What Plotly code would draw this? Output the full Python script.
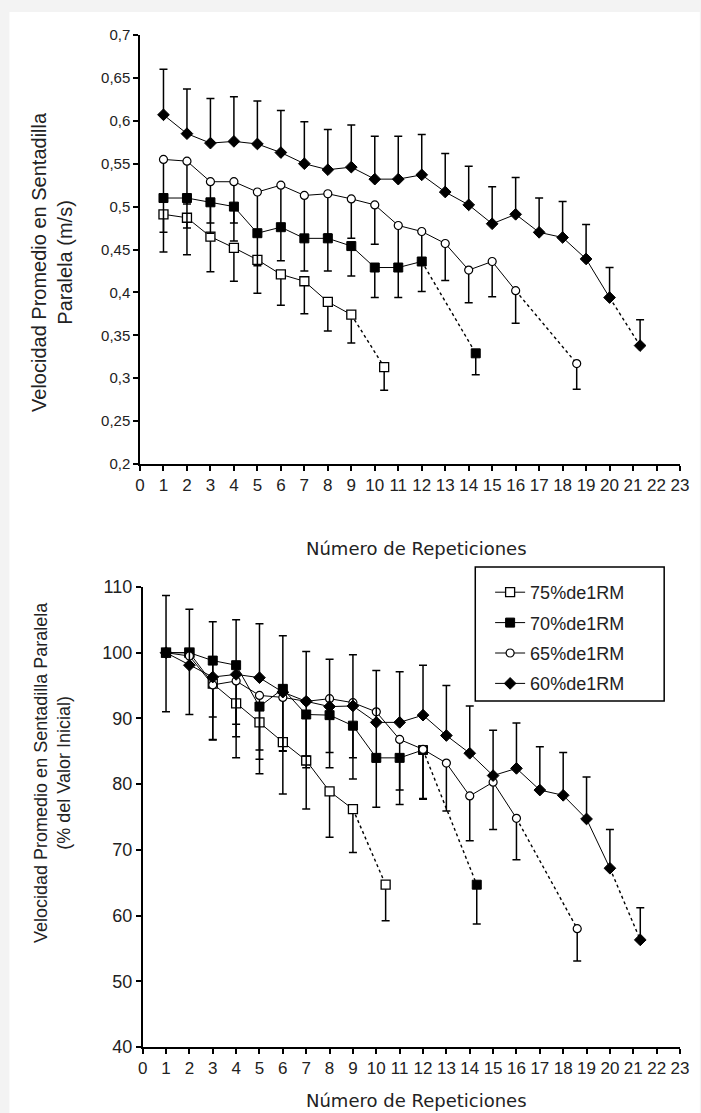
import plotly.graph_objects as go

# ---------------- data (top: m/s) ----------------
reps75 = [1, 2, 3, 4, 5, 6, 7, 8, 9]
vel75 = [0.491, 0.487, 0.465, 0.452, 0.438, 0.421, 0.413, 0.389, 0.374]
sd75 = [0.044, 0.043, 0.041, 0.039, 0.039, 0.036, 0.038, 0.034, 0.033]
end75_x, end75_v, end75_sd = 10.4, 0.313, 0.027

reps70 = [1, 2, 3, 4, 5, 6, 7, 8, 9, 10, 11, 12]
vel70 = [0.510, 0.510, 0.505, 0.500, 0.469, 0.476, 0.463, 0.463, 0.454, 0.429, 0.429, 0.436]
sd70 = [0.040, 0.035, 0.036, 0.040, 0.038, 0.039, 0.038, 0.038, 0.035, 0.035, 0.035, 0.035]
end70_x, end70_v, end70_sd = 14.3, 0.329, 0.025

reps65 = list(range(1, 17))
vel65 = [0.555, 0.553, 0.529, 0.529, 0.517, 0.525, 0.513, 0.515, 0.509, 0.502,
         0.478, 0.471, 0.457, 0.426, 0.436, 0.402]
sd65 = [0.046, 0.050, 0.048, 0.048, 0.050, 0.046, 0.048, 0.047, 0.046, 0.046,
        0.045, 0.034, 0.043, 0.038, 0.041, 0.038]
end65_x, end65_v, end65_sd = 18.6, 0.317, 0.030

reps60 = list(range(1, 21))
vel60 = [0.607, 0.585, 0.574, 0.576, 0.573, 0.563, 0.550, 0.543, 0.546, 0.532,
         0.532, 0.537, 0.517, 0.502, 0.480, 0.491, 0.470, 0.464, 0.439, 0.394]
sd60 = [0.053, 0.052, 0.052, 0.052, 0.050, 0.049, 0.049, 0.047, 0.049, 0.050,
        0.050, 0.047, 0.045, 0.045, 0.043, 0.043, 0.040, 0.042, 0.040, 0.035]
end60_x, end60_v, end60_sd = 21.3, 0.338, 0.030

# ---------------- data (bottom: % of initial) ----------------
pct75 = [100, 100, 95.3, 92.3, 89.4, 86.4, 83.6, 78.9, 76.2]
psd75 = [9.0, 9.4, 8.5, 8.3, 7.8, 7.9, 7.4, 7.0, 6.6]
pend75, pend75_sd = 64.7, 5.5

pct70 = [100, 100, 98.8, 98.1, 91.8, 94.5, 90.6, 90.5, 88.9, 84.0, 84.0, 85.2]
psd70 = [0, 0, 8.6, 9.0, 8.0, 9.4, 8.1, 8.0, 8.1, 7.5, 7.1, 7.5]
pend70, pend70_sd = 64.7, 6.0

pct65 = [100, 99.5, 95.1, 95.7, 93.5, 93.2, 92.6, 93.0, 92.4, 91.0, 86.8, 85.3,
         83.2, 78.2, 80.3, 74.8]
psd65 = [0, 0, 8.4, 8.5, 8.3, 8.2, 8.3, 8.2, 8.4, 7.6, 7.7, 7.5, 7.3, 6.8, 7.2, 6.3]
pend65, pend65_sd = 58.0, 4.9

pct60 = [100, 98.1, 96.3, 96.7, 96.2, 94.0, 92.6, 91.8, 91.9, 89.4, 89.4, 90.5,
         87.4, 84.7, 81.3, 82.4, 79.1, 78.3, 74.7, 67.2]
psd60 = [8.7, 8.5, 8.4, 8.3, 8.2, 8.6, 7.6, 7.2, 7.8, 7.9, 7.7, 7.6, 7.6, 7.2,
         6.9, 6.9, 6.6, 6.5, 6.4, 5.9]
pend60, pend60_sd = 56.3, 4.9

names = ["75%de1RM", "70%de1RM", "65%de1RM", "60%de1RM"]

# ---------------- styles ----------------
markers = {
    "75%de1RM": dict(symbol="square", size=9, color="white", line=dict(color="black", width=1.3)),
    "70%de1RM": dict(symbol="square", size=9, color="black", line=dict(color="black", width=1)),
    "65%de1RM": dict(symbol="circle", size=8, color="white", line=dict(color="black", width=1.2)),
    "60%de1RM": dict(symbol="diamond", size=9, color="black", line=dict(color="black", width=1)),
}
up = {"75%de1RM": False, "70%de1RM": False, "65%de1RM": False, "60%de1RM": True}

fig = go.Figure()


def err(sd, is_up):
    zeros = [0] * len(sd)
    return dict(type="data", symmetric=False,
                array=sd if is_up else zeros,
                arrayminus=zeros if is_up else sd,
                color="black", thickness=1.5, width=4)


def add_series(name, xs, ys, sds, ex, ey, esd, xa, ya, legend):
    # dashed connector to the final (extrapolated) point
    fig.add_trace(go.Scatter(x=[xs[-1], ex], y=[ys[-1], ey], mode="lines",
                             line=dict(color="black", width=1.4, dash="3px,3px"),
                             xaxis=xa, yaxis=ya, showlegend=False, hoverinfo="skip"))
    fig.add_trace(go.Scatter(x=[ex], y=[ey], mode="markers", marker=markers[name],
                             error_y=err([esd], up[name]),
                             xaxis=xa, yaxis=ya, showlegend=False))
    fig.add_trace(go.Scatter(x=xs, y=ys, mode="lines+markers", name=name,
                             line=dict(color="black", width=1),
                             marker=markers[name],
                             error_y=err(sds, up[name]),
                             xaxis=xa, yaxis=ya, showlegend=legend,
                             legendgroup=name))


top = [(reps75, vel75, sd75, end75_x, end75_v, end75_sd),
       (reps70, vel70, sd70, end70_x, end70_v, end70_sd),
       (reps65, vel65, sd65, end65_x, end65_v, end65_sd),
       (reps60, vel60, sd60, end60_x, end60_v, end60_sd)]
bottom = [(reps75, pct75, psd75, end75_x, pend75, pend75_sd),
          (reps70, pct70, psd70, end70_x, pend70, pend70_sd),
          (reps65, pct65, psd65, end65_x, pend65, pend65_sd),
          (reps60, pct60, psd60, end60_x, pend60, pend60_sd)]

for name, d in zip(names, top):
    add_series(name, *d, "x", "y", False)
for name, d in zip(names, bottom):
    add_series(name, *d, "x2", "y2", True)

# ---------------- layout ----------------
W, H = 701, 1113
ml, mr, mt, mb = 140, 15, 35, 66
pw, ph = W - ml - mr, H - mt - mb


def px_x(p):
    return (p - ml) / pw


def px_y(p):
    return 1 - (p - mt) / ph


tickfont = dict(family="Liberation Sans, Arial, sans-serif", size=17, color="#222")
axis_common = dict(showgrid=False, zeroline=False, showline=True, linecolor="black",
                   linewidth=1.5, ticks="outside", ticklen=5, tickwidth=1.5,
                   tickcolor="black", mirror=False)

fig.update_layout(
    width=W, height=H,
    margin=dict(l=ml, r=mr, t=mt, b=mb),
    paper_bgcolor="#f3f3f3",
    plot_bgcolor="rgba(0,0,0,0)",
    separators=",.",
    font=dict(family="Liberation Sans, Arial, sans-serif", color="#222"),
    xaxis=dict(domain=[0, 1], range=[0, 23], tickmode="linear", tick0=0, dtick=1,
               anchor="y", tickfont=tickfont, **axis_common),
    yaxis=dict(domain=[px_y(464), 1], range=[0.2, 0.7], tickmode="linear", tick0=0.2,
               dtick=0.05, anchor="x",
               tickfont=dict(family="Liberation Sans, Arial, sans-serif", size=15, color="#222"),
               **axis_common),
    xaxis2=dict(domain=[px_x(142.7), 1], range=[0, 23], tickmode="linear", tick0=0, dtick=1,
                anchor="y2", tickfont=tickfont, **axis_common),
    yaxis2=dict(domain=[0, px_y(587)], range=[40, 110], tickmode="linear", tick0=40,
                dtick=10, anchor="x2",
                tickfont=dict(family="Liberation Sans, Arial, sans-serif", size=18, color="#222"),
                **axis_common),
    legend=dict(x=px_x(494), y=px_y(574), xanchor="left", yanchor="top",
                bgcolor="rgba(0,0,0,0)", borderwidth=0,
                font=dict(family="Liberation Sans, Arial, sans-serif", size=18, color="#222"),
                traceorder="grouped", tracegroupgap=4),
    showlegend=True,
    shapes=[
        dict(type="rect", xref="paper", yref="paper", layer="below",
             x0=px_x(8), x1=px_x(W + 5), y0=px_y(H + 5), y1=px_y(12),
             fillcolor="white", line=dict(width=0)),
        dict(type="rect", xref="paper", yref="paper",
             x0=px_x(479), x1=px_x(670), y0=px_y(701), y1=px_y(567),
             fillcolor="rgba(0,0,0,0)", line=dict(color="black", width=1.5)),
    ],
    annotations=[
        dict(text="Velocidad Promedio en Sentadilla<br>Paralela (m/s)", textangle=-90,
             xref="paper", yref="paper", x=px_x(51), y=px_y(262), showarrow=False,
             xanchor="center", yanchor="middle",
             font=dict(size=20, family="Liberation Sans, Arial, sans-serif", color="#222")),
        dict(text="Número de Repeticiones", xref="paper", yref="paper",
             x=px_x(420), y=px_y(548), showarrow=False, xanchor="center", yanchor="middle",
             font=dict(size=18, family="DejaVu Sans, sans-serif", color="#222")),
        dict(text="Velocidad Promedio en Sentadilla Paralela<br>(% del Valor Inicial)",
             textangle=-90, xref="paper", yref="paper", x=px_x(51), y=px_y(772),
             showarrow=False, xanchor="center", yanchor="middle",
             font=dict(size=18, family="Liberation Sans, Arial, sans-serif", color="#222")),
        dict(text="Número de Repeticiones", xref="paper", yref="paper",
             x=px_x(420), y=px_y(1100), showarrow=False, xanchor="center", yanchor="middle",
             font=dict(size=18, family="DejaVu Sans, sans-serif", color="#222")),
    ],
)

fig.write_html("out.html")
